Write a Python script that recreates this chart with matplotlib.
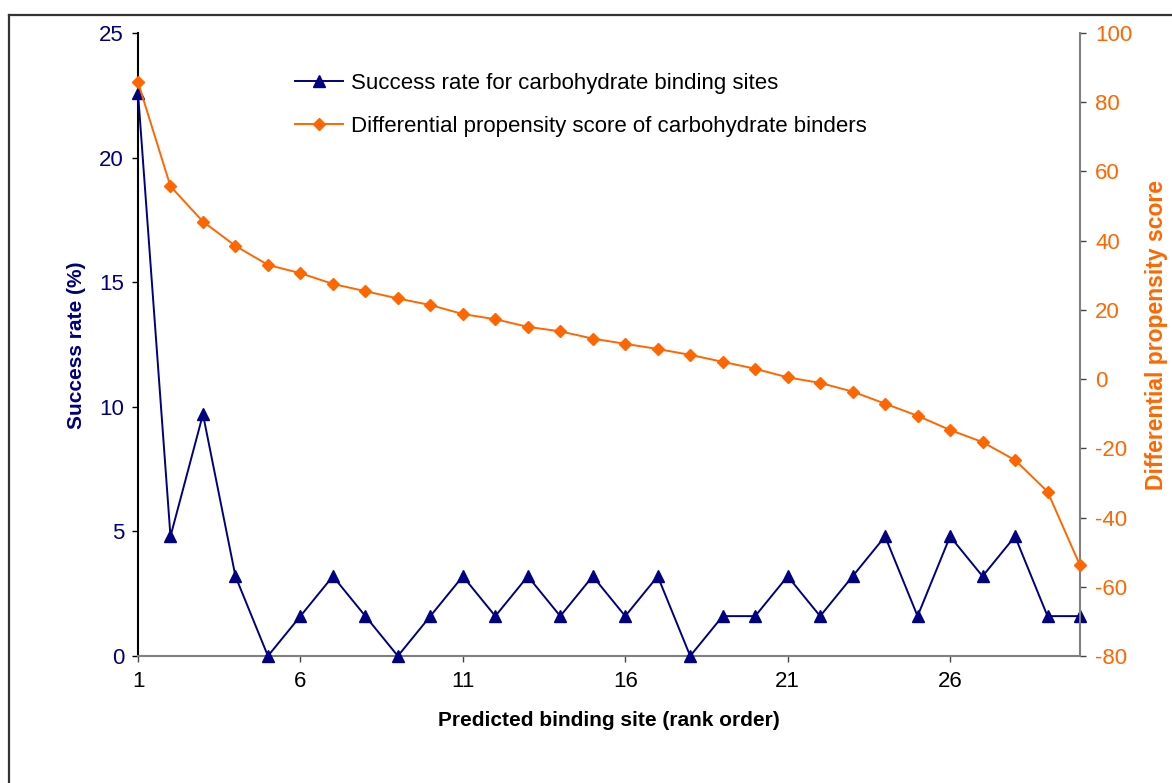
import matplotlib
matplotlib.use("Agg")
import matplotlib.pyplot as plt
from matplotlib.lines import Line2D

plt.rcParams['font.family'] = ['Liberation Sans', 'DejaVu Sans']
plt.rcParams['axes.unicode_minus'] = False

# Rank order of predicted binding sites
ranks = list(range(1, 31))

# Success rate (%) for carbohydrate binding sites
success_rate = [22.6, 4.8, 9.7, 3.2, 0.0, 1.6, 3.2, 1.6, 0.0, 1.6,
                3.2, 1.6, 3.2, 1.6, 3.2, 1.6, 3.2, 0.0, 1.6, 1.6,
                3.2, 1.6, 3.2, 4.8, 1.6, 4.8, 3.2, 4.8, 1.6, 1.6]

# Differential propensity score of carbohydrate binders
propensity = [85.8, 55.7, 45.5, 38.5, 33.0, 30.6, 27.5, 25.4, 23.3, 21.4,
              18.8, 17.3, 15.1, 13.8, 11.7, 10.2, 8.7, 7.0, 5.0, 3.0,
              0.5, -1.1, -3.6, -7.1, -10.6, -14.7, -18.2, -23.4, -32.5, -53.8]

x_ticks = [1, 6, 11, 16, 21, 26]
left_ticks = [0, 5, 10, 15, 20, 25]
right_ticks = [-80, -60, -40, -20, 0, 20, 40, 60, 80, 100]

NAVY = '#000080'
ORANGE = '#FF6600'
GRAY = '#808080'

W, H = 1172, 783
fig = plt.figure(figsize=(W / 100, H / 100), dpi=100)
ax = fig.add_axes([138 / W, 1 - 656 / H, (1080 - 138) / W, (656 - 33) / H])
ax2 = ax.twinx()

# Outer frame around the chart area
fig.add_artist(Line2D([8.5 / W, 1.0], [1 - 15 / H, 1 - 15 / H],
                      transform=fig.transFigure, color='#333333', lw=1.6))
fig.add_artist(Line2D([8.5 / W, 8.5 / W], [1 - 15 / H, 0.0],
                      transform=fig.transFigure, color='#333333', lw=1.6))

l1, = ax.plot(ranks, success_rate, color=NAVY, lw=1.4, marker='^',
              markersize=9, markerfacecolor=NAVY, markeredgecolor=NAVY,
              clip_on=False, zorder=3)
l2, = ax2.plot(ranks, propensity, color=ORANGE, lw=1.4, marker='D',
               markersize=6.5, markerfacecolor=ORANGE, markeredgecolor=ORANGE,
               clip_on=False, zorder=3)

ax.set_xlim(1, 30)
ax.set_ylim(0, 25)
ax2.set_ylim(-80, 100)
ax.set_xticks(x_ticks)
ax.set_yticks(left_ticks)
ax2.set_yticks(right_ticks)

ax.spines['top'].set_visible(False)
ax2.spines['top'].set_visible(False)
ax.spines['right'].set_visible(False)
ax2.spines['left'].set_visible(False)
ax2.spines['bottom'].set_visible(False)
ax.spines['left'].set_color('black')
ax.spines['bottom'].set_color(GRAY)
ax2.spines['right'].set_color(GRAY)
for sp in [ax.spines['left'], ax.spines['bottom'], ax2.spines['right']]:
    sp.set_linewidth(1.5)

ax.tick_params(axis='y', direction='out', length=4, width=1, colors='black',
               labelcolor=NAVY, labelsize=16, pad=6)
ax.tick_params(axis='x', direction='out', length=4, width=1, colors='#444444',
               labelcolor='black', labelsize=16, pad=7)
ax2.tick_params(axis='y', direction='out', length=4, width=1, colors='#444444',
                labelcolor=ORANGE, labelsize=16, pad=7)

fig.text(609 / W, 1 - 721 / H, 'Predicted binding site (rank order)',
         fontsize=15, fontweight='bold', color='black',
         ha='center', va='center')
fig.text(77 / W, 1 - 345 / H, 'Success rate (%)', fontsize=15,
         fontweight='bold', color=NAVY, rotation=90, ha='center', va='center')
fig.text(1157 / W, 1 - 335 / H, 'Differential propensity score',
         fontsize=16.5, fontweight='bold', color=ORANGE, rotation=90,
         ha='center', va='center')

ax.legend([l1, l2],
          ['Success rate for carbohydrate binding sites',
           'Differential propensity score of carbohydrate binders'],
          loc='upper left', bbox_to_anchor=(0.157, 0.950), frameon=False,
          fontsize=16, handlelength=2.16, handletextpad=0.36, labelspacing=1.0,
          borderaxespad=0)

ax.set_facecolor('none')
fig.savefig('out.png', dpi=100, facecolor='white')
